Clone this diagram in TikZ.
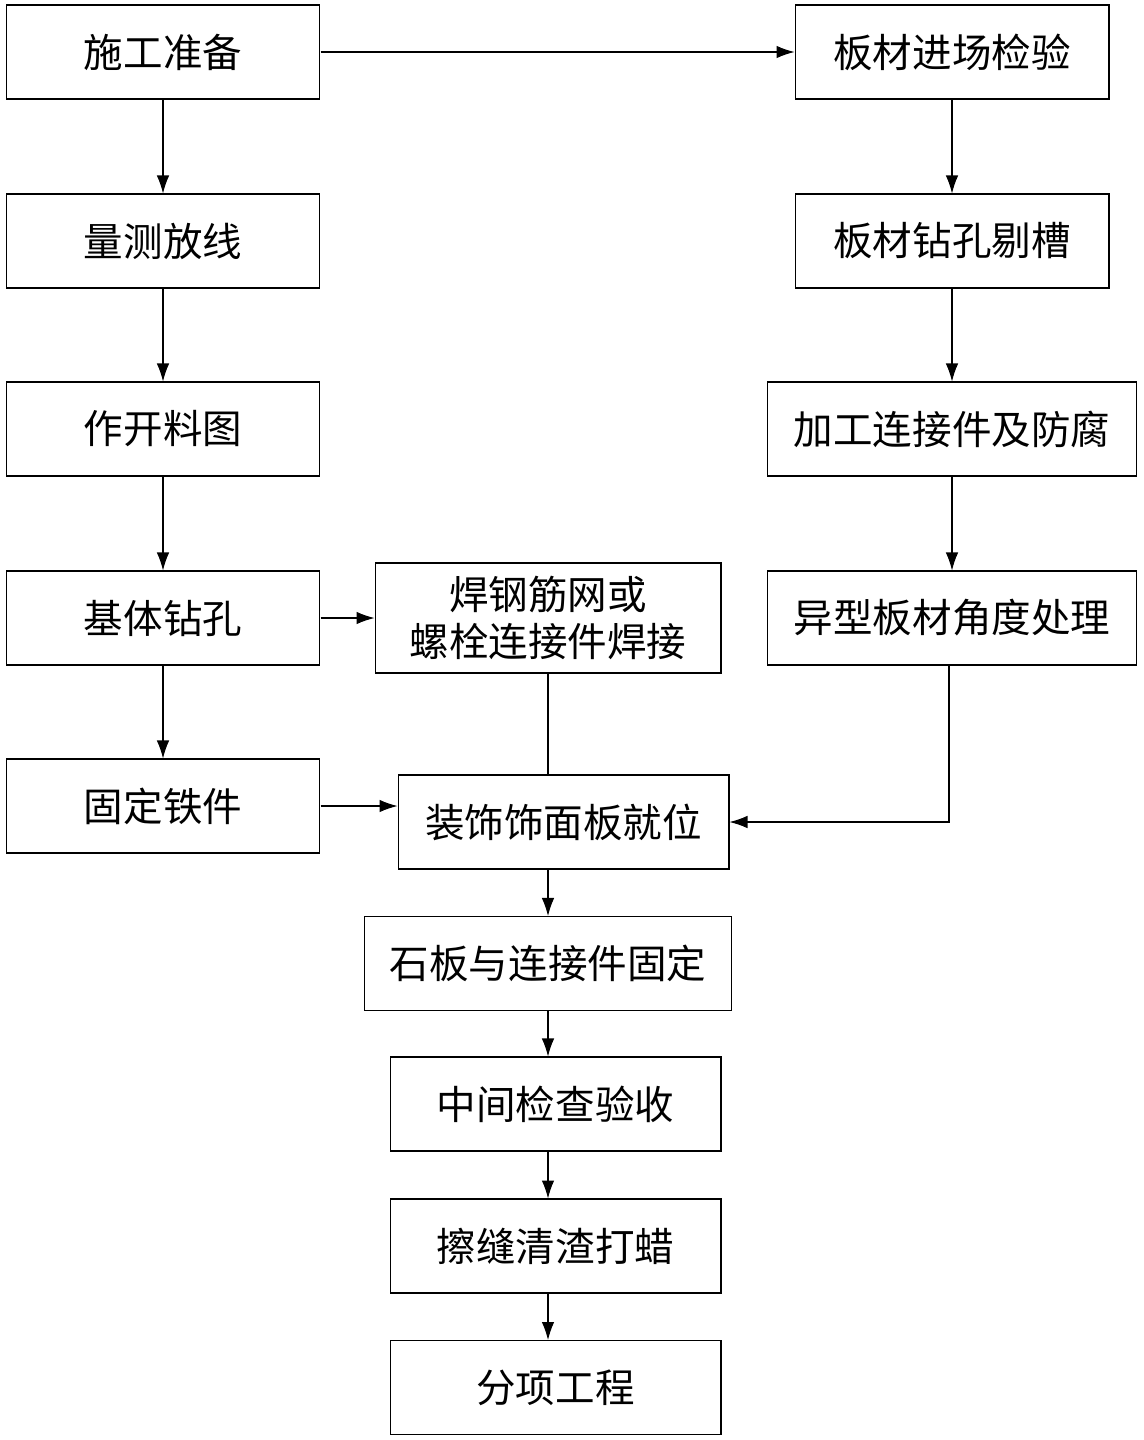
\documentclass[tikz,border=0pt]{standalone}
\usepackage{fontspec}
\setmainfont{Noto Sans CJK SC}
\usetikzlibrary{arrows.meta}
\tikzset{
    stepbox/.style={draw=black, line width=0.6pt, inner sep=0pt, align=center,
        minimum height=1.88cm, font=\fontsize{22.5}{27}\selectfont},
    flow/.style={draw=black, line width=0.6pt, -{Latex[length=3.6mm,width=2.5mm]}}
}

\begin{document}
\begin{tikzpicture}[x=0.02cm,y=-0.02cm]
        \useasboundingbox (0,0) rectangle (1143,1440);

        % Left column
        \node[stepbox, minimum width=6.28cm] (prep) at (163, 52) {施工准备};
        \node[stepbox, minimum width=6.28cm] (survey) at (163, 241) {量测放线};
        \node[stepbox, minimum width=6.28cm] (cutplan) at (163, 429) {作开料图};
        \node[stepbox, minimum width=6.28cm] (drillbase) at (163, 618) {基体钻孔};
        \node[stepbox, minimum width=6.28cm] (fixiron) at (163, 806) {固定铁件};

        % Right column
        \node[stepbox, minimum width=6.28cm] (inspect) at (952, 52) {板材进场检验};
        \node[stepbox, minimum width=6.28cm] (slot) at (952, 241) {板材钻孔剔槽};
        \node[stepbox, minimum width=7.38cm] (connector) at (952, 429) {加工连接件及防腐};
        \node[stepbox, minimum width=7.38cm] (angle) at (952, 618) {异型板材角度处理};

        % Middle column
        \node[stepbox, minimum width=6.92cm, minimum height=2.2cm] (weld) at (548, 618) {焊钢筋网或\\[-0.5pt]螺栓连接件焊接};
        \node[stepbox, minimum width=6.62cm] (place) at (563.5, 822) {装饰饰面板就位};
        \node[stepbox, minimum width=7.36cm] (fasten) at (548, 963.5) {石板与连接件固定};
        \node[stepbox, minimum width=6.62cm] (check) at (555.5, 1104) {中间检查验收};
        \node[stepbox, minimum width=6.62cm] (wax) at (555.5, 1246) {擦缝清渣打蜡};
        \node[stepbox, minimum width=6.62cm] (finish) at (555.5, 1387.5) {分项工程};

        % Connectors
        \draw[flow] (prep) -- (inspect);
        \draw[flow] (prep) -- (survey);
        \draw[flow] (survey) -- (cutplan);
        \draw[flow] (cutplan) -- (drillbase);
        \draw[flow] (drillbase) -- (weld);
        \draw[flow] (drillbase) -- (fixiron);
        \draw[flow] (fixiron.east) -- (fixiron.east -| place.west);
        \draw[flow] (inspect) -- (slot);
        \draw[flow] (slot) -- (connector);
        \draw[flow] (connector) -- (angle);
        \draw[line width=0.6pt] (weld.south) -- (weld.south |- place.north);
        \draw[flow] ([xshift=-1.7pt]angle.south) |- (place.east);
        \draw[flow] (place.south -| fasten.north) -- (fasten.north);
        \draw[flow] (fasten.south) -- (fasten.south |- check.north);
        \draw[flow] (fasten.south |- check.south) -- (fasten.south |- wax.north);
        \draw[flow] (fasten.south |- wax.south) -- (fasten.south |- finish.north);
    \end{tikzpicture}
\end{document}
